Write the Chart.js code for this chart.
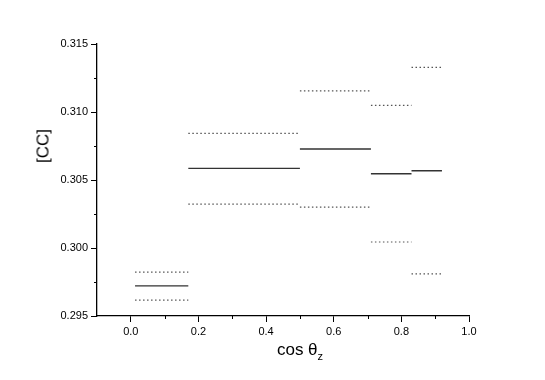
<!DOCTYPE html>
<html>
<head>
<meta charset="utf-8">
<script src="https://cdn.jsdelivr.net/npm/chart.js@4"></script>
<style>
  body { margin: 0; background: #fff; }
  #wrap { position: relative; width: 545px; height: 380px; }
  .axtitle {
    position: absolute; font-family: "Liberation Sans", Arial, sans-serif;
    font-size: 17px; color: #000; white-space: nowrap; line-height: 1;
  }
  #xtitle { left: 250px; width: 100px; top: 341px; text-align: center; }
  #xtitle sub { font-size: 11px; vertical-align: -5px; }
  #ytitle { left: 43px; top: 146px; transform: translate(-50%, -50%) rotate(-90deg); }
</style>
</head>
<body>
<div id="wrap">
  <canvas id="chart" width="545" height="380"></canvas>
  <div id="xtitle" class="axtitle">cos θ<sub>z</sub></div>
  <div id="ytitle" class="axtitle">[CC]</div>
</div>
<script>
// bin edges in cos(theta_z)
const binEdges = [0.0125, 0.17, 0.5, 0.71, 0.83, 0.92]
// central value and upper / lower band per bin
const central = [0.29721, 0.30585, 0.30728, 0.30546, 0.30568]
const upper = [0.29823, 0.30843, 0.31156, 0.31048, 0.31328]
const lower = [0.29616, 0.30322, 0.30300, 0.30044, 0.29810]

const xMajor = [0.0, 0.2, 0.4, 0.6, 0.8, 1.0]
const xMinor = [0.1, 0.3, 0.5, 0.7, 0.9]
const yMajor = [0.295, 0.300, 0.305, 0.310, 0.315]
const yMinor = [0.2975, 0.3025, 0.3075, 0.3125]

// turn per-bin values into step segments separated by gaps
function steps(values) {
  const pts = []
  values.forEach((v, i) => {
    pts.push({ x: binEdges[i], y: v })
    pts.push({ x: binEdges[i + 1], y: v })
    pts.push({ x: binEdges[i + 1], y: null })
  })
  return pts
}

// short minor tick marks, outside the axes
const minorTicks = {
  id: 'minorTicks',
  afterDraw(chart) {
    const { ctx, scales: { x, y } } = chart
    ctx.save()
    ctx.strokeStyle = '#000'
    ctx.lineWidth = 1
    ctx.beginPath()
    yMinor.forEach(v => {
      const py = Math.round(y.getPixelForValue(v)) + 0.5
      ctx.moveTo(y.right - 3, py)
      ctx.lineTo(y.right, py)
    })
    xMinor.forEach(v => {
      const px = Math.round(x.getPixelForValue(v)) + 0.5
      ctx.moveTo(px, x.top)
      ctx.lineTo(px, x.top + 3)
    })
    ctx.stroke()
    ctx.restore()
  }
}

const dotted = { borderColor: '#555', borderWidth: 1.2, borderDash: [1.5, 2.5] }

new Chart(document.getElementById('chart'), {
  type: 'line',
  data: {
    datasets: [
      { data: steps(upper), ...dotted },
      { data: steps(central), borderColor: '#333', borderWidth: 1.3 },
      { data: steps(lower), ...dotted }
    ]
  },
  options: {
    responsive: false,
    animation: false,
    spanGaps: false,
    elements: { point: { radius: 0 } },
    layout: { padding: { left: 33, top: 44, right: 76, bottom: 0 } },
    plugins: { legend: { display: false }, tooltip: { enabled: false } },
    scales: {
      x: {
        type: 'linear',
        min: -0.1,
        max: 1.0,
        afterBuildTicks: s => { s.ticks = xMajor.map(v => ({ value: v })) },
        afterFit: s => { s.height = 64 },
        grid: { drawOnChartArea: false, tickLength: 6, color: '#000' },
        border: { color: '#000', width: 1.3 },
        ticks: {
          color: '#000', font: { family: 'Liberation Sans', size: 11 }, padding: 3,
          maxRotation: 0, callback: v => v.toFixed(1)
        }
      },
      y: {
        min: 0.295,
        max: 0.315,
        afterBuildTicks: s => { s.ticks = yMajor.map(v => ({ value: v })) },
        afterFit: s => { s.width = 64 },
        grid: { drawOnChartArea: false, tickLength: 6, color: '#000' },
        border: { color: '#000', width: 1.3 },
        ticks: {
          color: '#000', font: { family: 'Liberation Sans', size: 11 }, padding: 3,
          callback: v => v.toFixed(3)
        }
      }
    }
  },
  plugins: [minorTicks]
})
</script>
</body>
</html>
